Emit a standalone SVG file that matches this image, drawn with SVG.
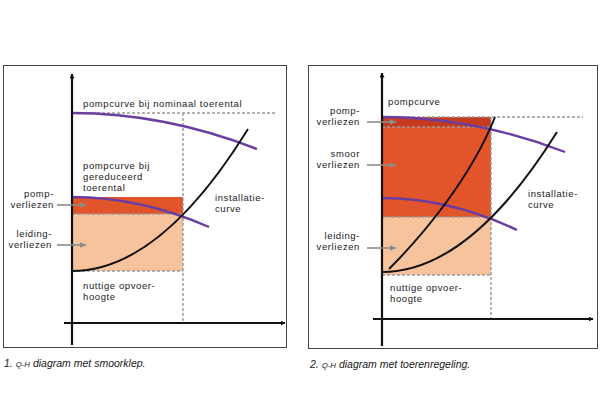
<svg xmlns="http://www.w3.org/2000/svg" width="600" height="400" viewBox="0 0 600 400">
<defs>
<style>
.frame{fill:#fff;stroke:#444;stroke-width:1}
.axis{fill:none;stroke:#111;stroke-width:2.2}
.dash{fill:none;stroke:#999;stroke-width:1.4;stroke-dasharray:3 2}
.pump{fill:none;stroke:#6a3ea1;stroke-width:2.4}
.inst{fill:none;stroke:#111;stroke-width:2}
.ptr{fill:none;stroke:#8c8c8c;stroke-width:1.6}
.lbl{font-family:"Liberation Sans",Arial,sans-serif;font-size:9.5px;letter-spacing:0.6px;fill:#1a1a1a}
.r{text-anchor:end}
.cap{font-family:"Liberation Sans",Arial,sans-serif;font-size:10.5px;font-style:italic;fill:#1a1a1a}
.sc{font-size:7.8px}
</style>
<marker id="ah" viewBox="0 0 10 10" refX="9" refY="5" markerWidth="5" markerHeight="5" orient="auto" markerUnits="userSpaceOnUse">
<path d="M0,0 L10,5 L0,10 z" fill="#111"/>
</marker>
<marker id="gh" viewBox="0 0 10 10" refX="9" refY="5" markerWidth="7" markerHeight="7" orient="auto" markerUnits="userSpaceOnUse">
<path d="M0,1 L10,5 L0,9 z" fill="#8c8c8c"/>
</marker>
</defs>
<rect width="600" height="400" fill="#fff"/>

<!-- Panel 1 -->
<g id="panel1">
<rect class="frame" x="3.5" y="65.5" width="283" height="282"/>
<g id="p1-areas">
<rect x="72" y="197" width="111" height="17" fill="#e2542a"/>
<rect x="72" y="214" width="111" height="57" fill="#f6c39c"/>
</g>
<g id="p1-dashes">
<line class="dash" x1="72" y1="113" x2="277" y2="113"/>
<line class="dash" x1="183" y1="113" x2="183" y2="322"/>
<line class="dash" x1="72" y1="214" x2="183" y2="214"/>
<line class="dash" x1="72" y1="271" x2="183" y2="271"/>
</g>
<g id="p1-curves">
<path class="pump" d="M72,113 Q164.5,113 257,149"/>
<path class="pump" d="M72,197 Q140.5,197 209,227"/>
<path class="inst" d="M72,271 Q160,271 248,129"/>
</g>
<g id="p1-axes">
<line class="axis" x1="72" y1="345" x2="72" y2="74" marker-end="url(#ah)"/>
<line class="axis" x1="64" y1="323" x2="285" y2="323" marker-end="url(#ah)"/>
</g>
<g id="p1-pointers">
<line class="ptr" x1="57" y1="205" x2="86" y2="205" marker-end="url(#gh)"/>
<line class="ptr" x1="57" y1="245" x2="86" y2="245" marker-end="url(#gh)"/>
</g>
<g id="p1-labels">
<text class="lbl" x="83" y="107">pompcurve bij nominaal toerental</text>
<text class="lbl" x="83" y="169">pompcurve bij</text>
<text class="lbl" x="83" y="180">gereduceerd</text>
<text class="lbl" x="83" y="191">toerental</text>
<text class="lbl r" x="54" y="197">pomp-</text>
<text class="lbl r" x="54" y="208">verliezen</text>
<text class="lbl r" x="52" y="237">leiding-</text>
<text class="lbl r" x="52" y="248">verliezen</text>
<text class="lbl" x="215" y="201">installatie-</text>
<text class="lbl" x="215" y="212">curve</text>
<text class="lbl" x="83" y="289">nuttige opvoer-</text>
<text class="lbl" x="83" y="300">hoogte</text>
</g>
<text class="cap" x="4" y="367">1. <tspan class="sc">Q-H</tspan> diagram met smoorklep.</text>
</g>

<!-- Panel 2 -->
<g id="panel2">
<rect class="frame" x="308.5" y="65.5" width="289" height="283"/>
<g id="p2-areas">
<rect x="382" y="117" width="109" height="10" fill="#c63a1f"/>
<rect x="382" y="127" width="109" height="90" fill="#e2542a"/>
<rect x="382" y="217" width="109" height="58" fill="#f6c39c"/>
</g>
<g id="p2-dashes">
<line class="dash" x1="382" y1="117" x2="583" y2="117"/>
<line class="dash" x1="491" y1="117" x2="491" y2="318"/>
<line class="dash" x1="382" y1="127" x2="491" y2="127"/>
<line class="dash" x1="382" y1="217" x2="491" y2="217"/>
<line class="dash" x1="382" y1="275" x2="491" y2="275"/>
</g>
<g id="p2-curves">
<path class="pump" d="M382,117 Q473.5,117 565,152"/>
<path class="pump" d="M382,198 Q449.5,198 517,230"/>
<path class="inst" d="M382,272 Q469.5,272 557,132"/>
<path class="inst" d="M389,269 C420,238 470,180 495,117"/>
</g>
<g id="p2-axes">
<line class="axis" x1="382" y1="346" x2="382" y2="73" marker-end="url(#ah)"/>
<line class="axis" x1="373" y1="319" x2="593" y2="319" marker-end="url(#ah)"/>
</g>
<g id="p2-pointers">
<line class="ptr" x1="367" y1="122" x2="396" y2="122" marker-end="url(#gh)"/>
<line class="ptr" x1="367" y1="165" x2="396" y2="165" marker-end="url(#gh)"/>
<line class="ptr" x1="367" y1="248" x2="396" y2="248" marker-end="url(#gh)"/>
</g>
<g id="p2-labels">
<text class="lbl" x="388" y="105">pompcurve</text>
<text class="lbl r" x="360" y="114">pomp-</text>
<text class="lbl r" x="360" y="125">verliezen</text>
<text class="lbl r" x="360" y="157">smoor</text>
<text class="lbl r" x="360" y="168">verliezen</text>
<text class="lbl" x="528" y="197">installatie-</text>
<text class="lbl" x="528" y="208">curve</text>
<text class="lbl r" x="360" y="239">leiding-</text>
<text class="lbl r" x="360" y="250">verliezen</text>
<text class="lbl" x="390" y="291">nuttige opvoer-</text>
<text class="lbl" x="390" y="302">hoogte</text>
</g>
<text class="cap" x="310" y="368">2. <tspan class="sc">Q-H</tspan> diagram met toerenregeling.</text>
</g>
</svg>
